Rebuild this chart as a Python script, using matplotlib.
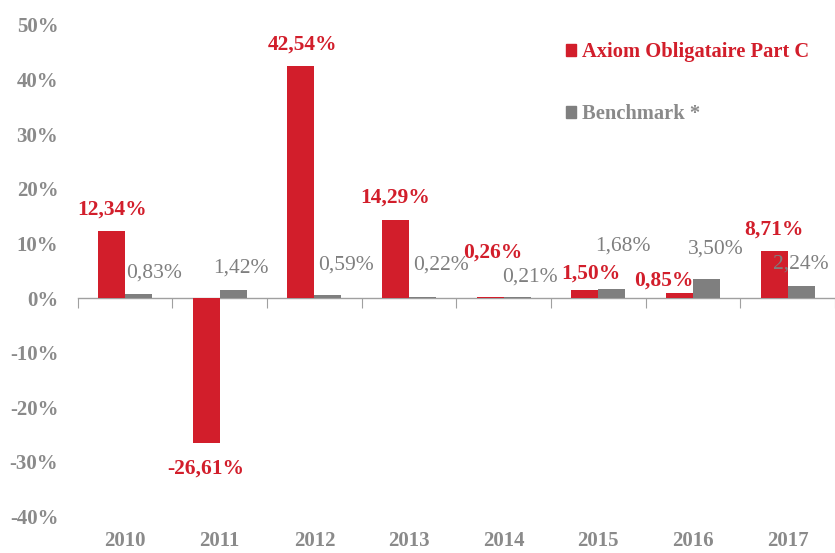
import numpy as np
import matplotlib
matplotlib.use("Agg")
import matplotlib.pyplot as plt
from matplotlib.patches import Patch

years = ["2010", "2011", "2012", "2013", "2014", "2015", "2016", "2017"]
axiom = [12.34, -26.61, 42.54, 14.29, 0.26, 1.50, 0.85, 8.71]
bench = [0.83, 1.42, 0.59, 0.22, 0.21, 1.68, 3.50, 2.24]

# label offsets in pixels from the bar end
axiom_off = [(0, 21), (0, -25), (2, 21), (0, 22), (3, 44), (6, 16), (-16, 13), (0, 21)]
bench_off = [(16, 21), (8, 22), (18, 30), (18, 32), (13, 20), (11, 43), (9, 30), (0, 22)]

RED = "#D21E2B"
GREY = "#7F7F7F"
TXT_GREY = "#8A8A8A"
AX_GREY = "#A0A0A0"

plt.rcParams["font.family"] = ["Liberation Serif", "DejaVu Serif"]

fig = plt.figure(figsize=(8.35, 5.53), dpi=100)
ax = fig.add_axes([0.0931, 0.0658, 0.9069, 0.889])

x = np.arange(len(years))
w = 0.285
b1 = ax.bar(x - w / 2, axiom, w, color=RED, zorder=2)
b2 = ax.bar(x + w / 2, bench, w, color=GREY, zorder=2)

ax.set_xlim(-0.5, len(years) - 0.5)
ax.set_ylim(-40, 50)
ax.set_yticks(np.arange(-40, 51, 10))
ax.set_yticklabels(["%d%%" % v for v in np.arange(-40, 51, 10)])
ax.set_xticks(x)
ax.set_xticklabels(years)
ax.tick_params(axis="both", length=0, labelsize=15, labelcolor=TXT_GREY)
ax.tick_params(axis="y", pad=14)
ax.tick_params(axis="x", pad=10)
for lab in ax.get_xticklabels() + ax.get_yticklabels():
    lab.set_fontweight("bold")
for s in ax.spines.values():
    s.set_visible(False)

# zero line with category separators
sec = ax.secondary_xaxis(40 / 90)
sec.set_xticks(np.arange(len(years) + 1) - 0.5)
sec.tick_params(length=7, direction="out", color=AX_GREY, labelbottom=False, labeltop=False)
sec.spines["bottom"].set_color(AX_GREY)
sec.spines["bottom"].set_linewidth(1)

def fmt(v):
    return ("%.2f%%" % v).replace(".", ",")

for i in range(len(years)):
    ax.annotate(fmt(axiom[i]), (x[i] - w / 2, axiom[i]), xytext=axiom_off[i],
                textcoords="offset pixels", ha="center", va="center",
                color=RED, fontsize=15.5, fontweight="bold", zorder=3)
    ax.annotate(fmt(bench[i]), (x[i] + w / 2, bench[i]), xytext=bench_off[i],
                textcoords="offset pixels", ha="center", va="center",
                color=GREY, fontsize=15.5, zorder=3)

handles = [Patch(color=RED), Patch(color=GREY)]
leg = fig.legend(handles, ["Axiom Obligataire Part C", "Benchmark *"],
                 loc="upper left", bbox_to_anchor=(566 / 835, 1 - 42 / 553),
                 frameon=False, fontsize=14.8, handlelength=0.5, handleheight=0.5,
                 handletextpad=0.3, labelspacing=2.05, borderaxespad=0, borderpad=0)
for t, c in zip(leg.get_texts(), [RED, TXT_GREY]):
    t.set_color(c)
    t.set_fontweight("bold")

fig.savefig("out.png", dpi=100)
